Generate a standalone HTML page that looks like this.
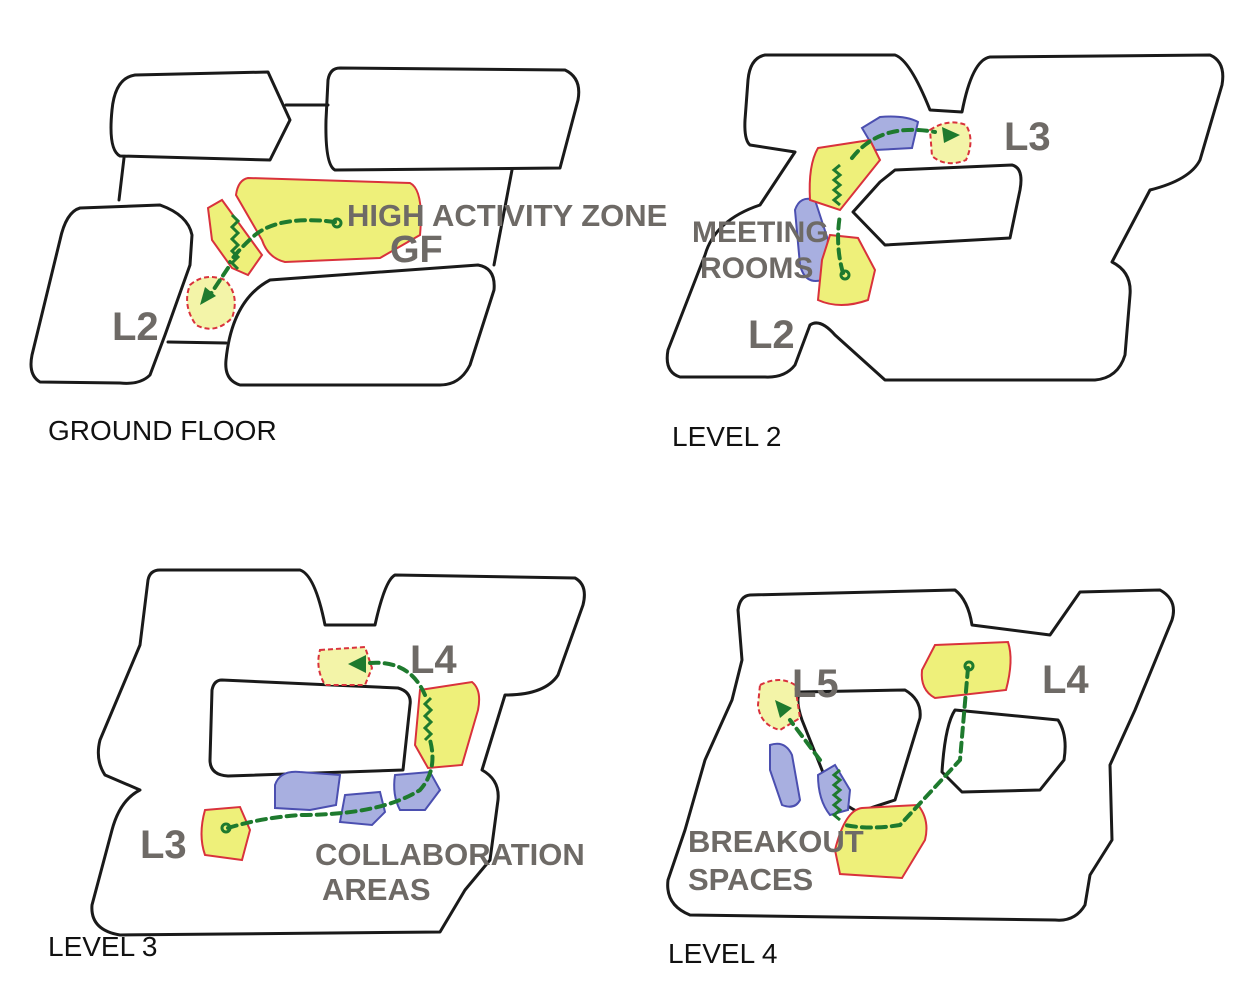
<!DOCTYPE html>
<html><head><meta charset="utf-8"><style>
html,body{margin:0;padding:0;background:#fff;}
svg{display:block}
.o{fill:none;stroke:#1a1a1a;stroke-width:3;stroke-linejoin:round;stroke-linecap:round}
.y{fill:#eef07a;stroke:#d9323c;stroke-width:2}
.yd{fill:#f3f4a8;stroke:#d9323c;stroke-width:2;stroke-dasharray:5 3}
.b{fill:#a8afe0;stroke:#4b4fb0;stroke-width:2}
.g{fill:none;stroke:#1e7a2e;stroke-width:4;stroke-dasharray:9 6;stroke-linecap:round}
.z{fill:none;stroke:#1e7a2e;stroke-width:3}
.t{font-family:"Liberation Sans",sans-serif;font-weight:bold;fill:#6e6a66}
.c{font-family:"Liberation Sans",sans-serif;fill:#111;font-size:28px}
</style></head><body>
<svg width="1249" height="1000" viewBox="0 0 1249 1000" xmlns="http://www.w3.org/2000/svg">
<!-- Ground floor -->
<path class="o" d="M135,75 L268,72 L290,120 L270,160 L120,156 Q108,150 112,110 Q115,78 135,75Z"/>
<path class="o" d="M340,68 L565,70 Q582,78 578,100 L560,168 L335,170 Q325,165 326,120 L328,80 Q330,68 340,68Z"/>
<path class="o" d="M286,105 L328,105 M124,158 L119,200 M512,170 L494,265 M168,342 L226,343"/>
<path class="o" d="M80,208 L160,205 Q188,215 192,235 L190,265 L165,335 L150,375 Q140,385 120,383 L40,382 Q28,375 32,355 L60,240 Q66,212 80,208Z"/>
<path class="o" d="M270,280 L478,265 Q496,268 494,290 L470,365 Q460,385 440,385 L240,385 Q224,380 226,360 Q232,300 270,280Z"/>
<path class="y" d="M248,178 L410,183 Q424,190 420,235 L380,258 L285,262 Q268,258 262,240 L236,195 Q238,180 248,178Z"/>
<path class="y" d="M208,208 L222,200 L262,255 L248,275 L232,268 L212,240Z"/>
<path class="yd" d="M190,285 Q205,272 225,280 Q240,295 232,318 Q215,335 196,325 Q182,305 190,285Z"/>
<path class="g" d="M335,222 Q280,215 255,235 Q238,250 230,262"/>
<path class="z" d="M232,215 l6,6 -6,6 6,6 -6,6 6,6 -6,6 6,6 -6,6 6,6"/>
<path class="g" d="M228,268 L210,295"/>
<polygon points="200,305 205,287 216,296" fill="#1e7a2e"/>
<circle cx="337" cy="223" r="4" fill="none" stroke="#1e7a2e" stroke-width="3"/>
<text class="t" x="347" y="226" font-size="31">HIGH ACTIVITY ZONE</text>
<text class="t" x="390" y="262" font-size="38">GF</text>
<text class="t" x="112" y="340" font-size="40">L2</text>
<text class="c" x="48" y="440">GROUND FLOOR</text>
<!-- Level 2 -->
<path class="o" d="M765,55 L895,55 Q910,60 930,110 L962,112 Q972,60 990,57 L1210,55 Q1226,62 1222,85 L1200,160 Q1190,180 1150,190 L1112,262 Q1132,272 1130,295 L1125,355 Q1118,378 1095,380 L885,380 L835,335 Q820,318 810,325 L795,365 Q785,378 765,377 L680,377 Q664,372 668,350 L705,255 Q715,220 760,205 L795,152 L750,145 Q744,140 745,120 L748,80 Q750,58 765,55Z"/>
<path class="o" d="M895,170 L1012,165 Q1024,168 1020,190 L1010,238 L885,245 L853,212 L880,182Z"/>
<path class="b" d="M862,128 L880,117 Q905,115 918,122 L912,148 L875,150Z"/>
<path class="b" d="M795,210 Q800,195 815,200 L828,240 L822,280 Q805,285 800,265Z"/>
<path class="y" d="M818,148 L870,140 L880,160 L840,210 L810,200 Q808,165 818,148Z"/>
<path class="y" d="M830,235 L858,238 L875,270 L868,300 Q840,310 818,300 L822,260Z"/>
<path class="yd" d="M930,130 Q948,118 966,125 Q975,140 966,160 Q946,168 932,156Z"/>
<path class="g" d="M843,273 Q835,245 840,215"/>
<path class="z" d="M840,205 l-6,-5 6,-5 -6,-5 6,-5 -6,-5 6,-5 -6,-5 6,-5"/>
<path class="g" d="M852,158 Q880,122 935,132"/>
<polygon points="960,135 942,127 944,143" fill="#1e7a2e"/>
<circle cx="845" cy="275" r="4" fill="none" stroke="#1e7a2e" stroke-width="3"/>
<text class="t" x="1004" y="150" font-size="40">L3</text>
<text class="t" x="692" y="242" font-size="30">MEETING</text>
<text class="t" x="700" y="278" font-size="30">ROOMS</text>
<text class="t" x="748" y="348" font-size="40">L2</text>
<text class="c" x="672" y="446">LEVEL 2</text>
<!-- Level 3 -->
<path class="o" d="M160,570 L300,570 Q315,575 325,625 L375,625 Q385,580 395,575 L575,578 Q588,585 583,605 L558,675 Q545,695 505,695 L482,770 Q500,780 498,800 L490,860 L465,890 L440,932 L120,935 Q90,930 92,905 L112,830 Q120,800 140,790 L105,775 Q95,760 100,740 L140,645 L148,580 Q150,570 160,570Z"/>
<path class="o" d="M222,680 L398,688 Q412,692 410,705 L403,770 L228,776 Q210,775 210,760 L212,690 Q214,680 222,680Z"/>
<path class="y" d="M420,690 L472,682 Q482,690 478,710 L462,765 L428,768 L415,745Z"/>
<path class="y" d="M205,810 L240,807 L250,830 L242,860 L205,855 Q198,835 205,810Z"/>
<path class="yd" d="M320,650 L365,647 L372,668 L365,685 L325,685 Q315,668 320,650Z"/>
<path class="b" d="M275,785 Q280,770 300,772 L340,775 L336,805 L310,810 L275,808Z"/>
<path class="b" d="M345,795 L380,792 L385,812 L372,825 L340,822Z"/>
<path class="b" d="M395,775 L430,772 L440,790 L425,810 L400,810 Q392,795 395,775Z"/>
<path class="g" d="M228,828 Q260,818 300,815 Q380,815 420,790 Q438,770 430,740"/>
<path class="z" d="M425,740 l6,-6 -6,-6 6,-6 -6,-6 6,-6 -6,-6 6,-6"/>
<path class="g" d="M425,695 Q410,660 370,663"/>
<polygon points="348,664 366,655 366,673" fill="#1e7a2e"/>
<circle cx="226" cy="828" r="4" fill="none" stroke="#1e7a2e" stroke-width="3"/>
<text class="t" x="410" y="673" font-size="40">L4</text>
<text class="t" x="140" y="858" font-size="40">L3</text>
<text class="t" x="315" y="865" font-size="31">COLLABORATION</text>
<text class="t" x="322" y="900" font-size="31">AREAS</text>
<text class="c" x="48" y="956">LEVEL 3</text>
<!-- Level 4 -->
<path class="o" d="M750,595 L955,590 Q968,600 972,625 L1050,635 L1080,592 L1160,590 Q1178,600 1172,620 L1135,710 L1110,765 L1112,840 L1090,875 L1085,905 Q1075,922 1055,920 L690,915 Q665,905 668,880 L685,830 L705,760 L732,700 L742,660 L738,610 Q740,596 750,595Z"/>
<path class="o" d="M800,692 L905,690 Q922,700 920,718 L895,800 L858,812 Q835,800 828,785 L802,720 Q795,700 800,692Z"/>
<path class="o" d="M955,710 L1058,720 Q1068,735 1064,760 L1040,790 L962,792 L942,772 Q945,725 955,710Z"/>
<path class="y" d="M935,645 L1008,642 Q1014,660 1006,690 L935,698 Q920,690 922,670Z"/>
<path class="y" d="M862,808 L918,805 Q930,820 925,840 L902,878 L840,874 L835,850 Q845,810 862,808Z"/>
<path class="yd" d="M760,685 Q780,675 795,685 L800,718 L780,730 Q760,725 758,705Z"/>
<path class="b" d="M770,745 Q785,740 792,755 L800,800 Q795,810 782,805 L770,770Z"/>
<path class="b" d="M818,775 L835,765 L850,790 L848,810 L830,815 Q818,800 818,775Z"/>
<path class="g" d="M968,668 L960,760 L900,825 Q870,830 845,825"/>
<path class="z" d="M840,820 l-6,-5 6,-5 -6,-5 6,-5 -6,-5 6,-5 -6,-5 6,-5 -6,-5 6,-5"/>
<path class="g" d="M820,760 L790,720"/>
<polygon points="775,700 792,708 780,718" fill="#1e7a2e"/>
<circle cx="969" cy="666" r="4" fill="none" stroke="#1e7a2e" stroke-width="3"/>
<text class="t" x="792" y="697" font-size="40">L5</text>
<text class="t" x="1042" y="693" font-size="40">L4</text>
<text class="t" x="688" y="852" font-size="31">BREAKOUT</text>
<text class="t" x="688" y="890" font-size="31">SPACES</text>
<text class="c" x="668" y="963">LEVEL 4</text>
</svg>
</body></html>
